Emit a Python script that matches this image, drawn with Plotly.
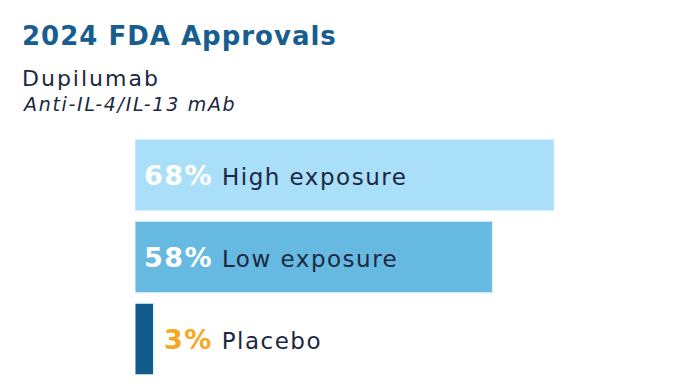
import plotly.graph_objects as go

title = "2024 FDA Approvals"
drug = "Dupilumab"
drug_class = "Anti-IL-4/IL-13 mAb"
categories = ["High exposure", "Low exposure", "Placebo"]
values = [68, 58, 3]
bar_colors = ["#aadff9", "#66b9e1", "#115b8c"]

FONT = "DejaVu Sans"
NAVY = "#1b2840"

fig = go.Figure(
    go.Bar(
        x=values,
        y=categories,
        orientation="h",
        marker=dict(color=bar_colors, line=dict(color="#dff1fb", width=1)),
        hoverinfo="skip",
    )
)

for cat, v in zip(categories, values):
    inside = v >= 10
    pct_color = "white" if inside else "#f7a823"
    xpos = 1.2 if inside else v + 1.3
    fig.add_annotation(
        x=xpos, y=cat, xref="x", yref="y", xanchor="left", yanchor="middle",
        showarrow=False,
        text=(f"<b><span style='color:{pct_color};font-size:27px;letter-spacing:1.5px'>{v}%</span></b>"
              f"<span style='letter-spacing:1.5px'> {cat}</span>"),
        font=dict(family=FONT, size=23, color=NAVY),
    )

OFF = 8  # page body margin
fig.add_annotation(
    x=20, y=36, showarrow=False,
    text=f"<b><span style='letter-spacing:1px'>{title}</span></b>",
    font=dict(family=FONT, size=26, color="#175d90"),
    xanchor="left", yanchor="middle",
)
fig.add_annotation(
    x=20, y=78, showarrow=False, text=f"<span style='letter-spacing:2px'>{drug}</span>",
    font=dict(family=FONT, size=22, color=NAVY), xanchor="left", yanchor="middle",
)
fig.add_annotation(
    x=20, y=104, showarrow=False, text=f"<i><span style='letter-spacing:1.7px'>{drug_class}</span></i>",
    font=dict(family=FONT, size=19, color=NAVY), xanchor="left", yanchor="middle",
)

W, H = 690, 388
L, R, T, B = 135 - OFF, 70, 134 - OFF, 8 + OFF
pw, ph = W - L - R, H - T - B
for a in fig.layout.annotations[-3:]:
    a.xref = "paper"
    a.yref = "paper"
    a.x = (a.x - OFF - L) / pw
    a.y = 1 - (a.y - OFF - T) / ph

fig.update_layout(
    width=W, height=H,
    margin=dict(l=L, r=R, t=T, b=B),
    paper_bgcolor="white", plot_bgcolor="white",
    bargap=0.128,
    showlegend=False,
    xaxis=dict(range=[0, 80], visible=False),
    yaxis=dict(categoryorder="array", categoryarray=categories,
               range=[2.5, -0.5], visible=False),
)

fig.write_html("out.html")
